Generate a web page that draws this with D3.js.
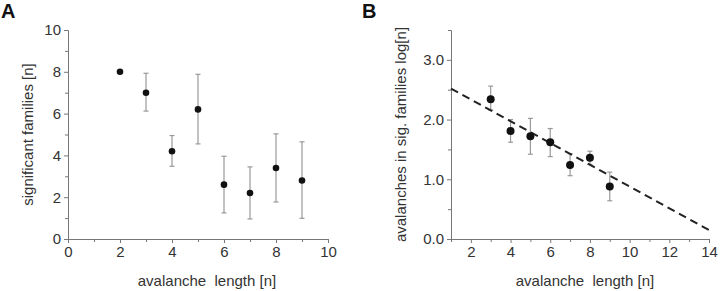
<!DOCTYPE html>
<html>
<head>
<meta charset="utf-8">
<script src="https://cdn.jsdelivr.net/npm/d3@7"></script>
<style>
    body { margin: 0; background: #fff; }
    svg { display: block; font-family: "Liberation Sans", Arial, sans-serif; }
    .tick text { fill: #333; font-size: 15px; }
    .domain, .tick line { stroke: #777; }
</style>
</head>
<body>
<svg id="chart" width="720" height="291"></svg>
<script>
// panel A: significant families per avalanche length
var lengthsA = [2, 3, 4, 5, 6, 7, 8, 9];
var familiesA = [8.0, 7.0, 4.2, 6.2, 2.6, 2.2, 3.4, 2.8];
var errLowA = [8.0, 6.12, 3.48, 4.55, 1.25, 0.96, 1.77, 0.99];
var errHighA = [8.0, 7.93, 4.95, 7.88, 3.96, 3.45, 5.03, 4.65];
var xTicksA = [0, 2, 4, 6, 8, 10];
var yTicksA = [0, 2, 4, 6, 8, 10];

// panel B: avalanches in sig. families (log)
var lengthsB = [3, 4, 5, 6, 7, 8, 9];
var avalB = [2.34, 1.81, 1.72, 1.62, 1.24, 1.36, 0.88];
var errLowB = [2.16, 1.62, 1.42, 1.38, 1.06, 1.25, 0.64];
var errHighB = [2.56, 2.0, 2.02, 1.85, 1.43, 1.47, 1.12];
var fitX = [1, 14];
var fitY = [2.52, 0.15];
var xTicksB = [2, 4, 6, 8, 10, 12, 14];
var yTicksB = [0, 1, 2, 3];

var svg = d3.select('#chart');

function panel(opt) {
    var g = svg.append('g');

    var x = d3.scaleLinear().domain(opt.xDomain).range(opt.xRange);
    var y = d3.scaleLinear().domain(opt.yDomain).range(opt.yRange);

    // minor ticks first, without labels
    g.append('g')
        .attr('transform', 'translate(0,' + opt.yRange[0] + ')')
        .call(d3.axisBottom(x).tickValues(opt.xMinor).tickSize(3).tickFormat('').tickSizeOuter(0));
    g.append('g')
        .attr('transform', 'translate(' + opt.xRange[0] + ',0)')
        .call(d3.axisLeft(y).tickValues(opt.yMinor).tickSize(3).tickFormat('').tickSizeOuter(0));

    g.append('g')
        .attr('transform', 'translate(0,' + opt.yRange[0] + ')')
        .call(d3.axisBottom(x).tickValues(opt.xTicks).tickSize(4).tickSizeOuter(0).tickPadding(3));
    g.append('g')
        .attr('transform', 'translate(' + opt.xRange[0] + ',0)')
        .call(d3.axisLeft(y).tickValues(opt.yTicks).tickSize(4).tickSizeOuter(0)
            .tickPadding(3).tickFormat(opt.yFormat));

    // error bars
    var eb = g.selectAll('.err')
        .data(opt.xs.map(function (v, i) { return i; }))
        .enter()
        .append('g')
        .attr('stroke', '#999')
        .attr('stroke-width', 1.2);
    eb.append('line')
        .attr('x1', function (i) { return x(opt.xs[i]); })
        .attr('x2', function (i) { return x(opt.xs[i]); })
        .attr('y1', function (i) { return y(opt.lo[i]); })
        .attr('y2', function (i) { return y(opt.hi[i]); });
    [opt.lo, opt.hi].forEach(function (arr) {
        eb.filter(function (i) { return opt.lo[i] !== opt.hi[i]; })
            .append('line')
            .attr('x1', function (i) { return x(opt.xs[i]) - 2.5; })
            .attr('x2', function (i) { return x(opt.xs[i]) + 2.5; })
            .attr('y1', function (i) { return y(arr[i]); })
            .attr('y2', function (i) { return y(arr[i]); });
    });

    if (opt.fit) {
        g.append('line')
            .attr('x1', x(opt.fit[0][0]))
            .attr('y1', y(opt.fit[1][0]))
            .attr('x2', x(opt.fit[0][1]))
            .attr('y2', y(opt.fit[1][1]))
            .attr('stroke', '#222')
            .attr('stroke-width', 2)
            .attr('stroke-dasharray', '8,5');
    }

    g.selectAll('circle')
        .data(opt.ys)
        .enter()
        .append('circle')
        .attr('cx', function (d, i) { return x(opt.xs[i]); })
        .attr('cy', function (d) { return y(d); })
        .attr('r', opt.r)
        .attr('fill', '#111');

    g.append('text')
        .attr('x', opt.xTitleX)
        .attr('y', 286)
        .attr('text-anchor', 'middle')
        .attr('fill', '#333')
        .style('font-size', '15px')
        .style('white-space', 'pre')
        .text(opt.xTitle);

    g.append('text')
        .attr('transform', 'translate(' + opt.yTitleX + ',' + ((opt.yRange[0] + opt.yRange[1]) / 2) + ') rotate(-90)')
        .attr('text-anchor', 'middle')
        .attr('fill', '#333')
        .style('font-size', '15px')
        .text(opt.yTitle);

    g.append('text')
        .attr('x', opt.labelX)
        .attr('y', 18)
        .attr('fill', '#111')
        .style('font-size', '20px')
        .style('font-weight', 'bold')
        .text(opt.label);
}

panel({
    label: 'A', labelX: 1,
    xDomain: [0, 10], xRange: [68, 328],
    yDomain: [0, 10], yRange: [239, 30],
    xTicks: xTicksA, yTicks: yTicksA,
    xMinor: [1, 3, 5, 7, 9], yMinor: [1, 3, 5, 7, 9],
    yFormat: d3.format('d'),
    xs: lengthsA, ys: familiesA, lo: errLowA, hi: errHighA,
    r: 3.3,
    xTitle: 'avalanche  length [n]', xTitleX: 207,
    yTitle: 'significant families [n]', yTitleX: 33
});

panel({
    label: 'B', labelX: 362,
    xDomain: [1, 14], xRange: [451, 709],
    yDomain: [0, 3.5], yRange: [239, 30],
    xTicks: xTicksB, yTicks: yTicksB,
    xMinor: [1, 3, 5, 7, 9, 11, 13], yMinor: [0.5, 1.5, 2.5, 3.5],
    yFormat: d3.format('.1f'),
    xs: lengthsB, ys: avalB, lo: errLowB, hi: errHighB,
    fit: [fitX, fitY],
    r: 4,
    xTitle: 'avalanche  length [n]', xTitleX: 585,
    yTitle: 'avalanches in sig. families log[n]', yTitleX: 406
});
</script>
</body>
</html>
